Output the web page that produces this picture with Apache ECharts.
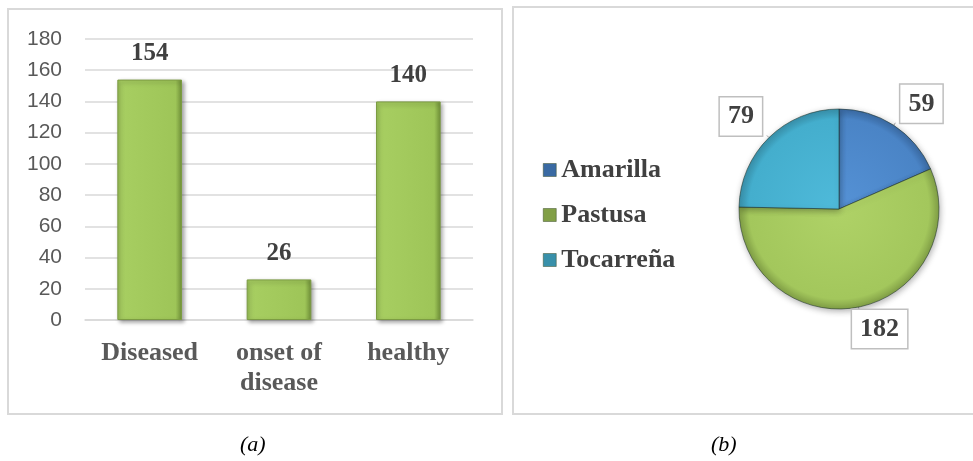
<!DOCTYPE html>
<html>
<head>
<meta charset="utf-8">
<script src="https://cdn.jsdelivr.net/npm/echarts@6/dist/echarts.min.js"></script>
<style>
  html, body { margin: 0; padding: 0; background: #fff; }
  #chart { width: 973px; height: 461px; }
</style>
</head>
<body>
<div id="chart"></div>
<script>
// (a) plant state counts
var barCategories = ['Diseased', 'onset of\ndisease', 'healthy'];
var barValues = [154, 26, 140];
var yMin = 0, yMax = 180, yStep = 20;

// (b) variety counts
var pieNames = ['Amarilla', 'Pastusa', 'Tocarreña'];
var pieValues = [59, 182, 79];

var serif = "'Liberation Serif', 'Times New Roman', serif";
var pieCenter = [839, 209], pieR = 100;

function radial(c0, c1, c2) {
  return {
    type: 'radial', x: pieCenter[0], y: pieCenter[1], r: pieR, global: true,
    colorStops: [{ offset: 0, color: c0 }, { offset: 0.9, color: c1 }, { offset: 1, color: c2 }]
  };
}
var pieColors = [
  radial('#5592d6', '#4a84c6', '#3a6aa3'),
  radial('#afd267', '#a3c75c', '#819f46'),
  radial('#4fbada', '#44aecd', '#3890aa')
];

var barFill = {
  type: 'linear', x: 0, y: 0, x2: 1, y2: 0,
  colorStops: [
    { offset: 0, color: '#93b952' },
    { offset: 0.06, color: '#a7ce61' },
    { offset: 0.9, color: '#9ec558' },
    { offset: 1, color: '#6f8f38' }
  ]
};

var chart = echarts.init(document.getElementById('chart'));
chart.setOption({
  animation: false,
  backgroundColor: '#fff',
  graphic: [
    { type: 'rect', z: -10, shape: { x: 8, y: 9, width: 494, height: 405 },
      style: { fill: '#fff', stroke: '#d9d9d9', lineWidth: 2 } },
    { type: 'rect', z: -10, shape: { x: 513, y: 7, width: 470, height: 407 },
      style: { fill: '#fff', stroke: '#d9d9d9', lineWidth: 2 } },
    { type: 'text', left: 240, top: 434,
      style: { text: '(a)', font: 'italic 22px ' + serif, fill: '#000' } },
    { type: 'text', left: 711, top: 434,
      style: { text: '(b)', font: 'italic 22px ' + serif, fill: '#000' } }
  ],
  grid: { left: 85, right: 500, top: 39, bottom: 141 },
  xAxis: {
    type: 'category',
    data: barCategories,
    axisLine: { lineStyle: { color: '#d9d9d9', width: 1.5 } },
    axisTick: { show: false },
    axisLabel: {
      margin: 18, color: '#595959', fontFamily: serif, fontWeight: 'bold',
      fontSize: 26, lineHeight: 30, interval: 0
    }
  },
  yAxis: {
    type: 'value', min: yMin, max: yMax, interval: yStep,
    axisLine: { show: false },
    axisTick: { show: false },
    splitLine: { lineStyle: { color: '#d9d9d9', width: 1.5 } },
    axisLabel: { margin: 23, color: '#595959', fontFamily: "'Liberation Sans', Arial, sans-serif", fontSize: 21 }
  },
  legend: {
    orient: 'vertical',
    left: 538, top: 150,
    data: pieNames,
    icon: 'rect',
    itemWidth: 13, itemHeight: 13,
    itemGap: 15,
    itemStyle: { borderColor: '#3d4e2a', borderWidth: 0.5 },
    textStyle: { color: '#404040', fontFamily: serif, fontWeight: 'bold', fontSize: 26, lineHeight: 30 }
  },
  series: [
    {
      type: 'bar',
      data: barValues,
      barWidth: '50%',
      itemStyle: {
        color: barFill,
        borderColor: '#7c9c43', borderWidth: 1,
        shadowColor: 'rgba(0,0,0,0.35)', shadowBlur: 4, shadowOffsetX: 2, shadowOffsetY: 2
      },
      label: {
        show: true, position: 'top', distance: 13,
        color: '#404040', fontFamily: serif, fontWeight: 'bold', fontSize: 25, lineHeight: 26
      }
    },
    {
      type: 'pie',
      center: pieCenter,
      radius: pieR,
      startAngle: 90,
      clockwise: true,
      avoidLabelOverlap: false,
      data: pieNames.map(function (n, i) {
        return { name: n, value: pieValues[i], itemStyle: { color: pieColors[i] } };
      }),
      itemStyle: {
        borderColor: 'rgba(30,50,40,0.55)', borderWidth: 1,
        shadowColor: 'rgba(0,0,0,0.3)', shadowBlur: 6, shadowOffsetX: 1, shadowOffsetY: 2
      },
      label: {
        show: true, position: 'outside', formatter: '{c}',
        color: '#404040', fontFamily: serif, fontWeight: 'bold', fontSize: 26, lineHeight: 28,
        backgroundColor: '#fff', borderColor: '#bfbfbf', borderWidth: 1.5, padding: [5, 8]
      },
      labelLine: { show: true, length: 3, length2: 0, lineStyle: { color: '#a6a6a6', width: 1 } },
      labelLayout: function (params) {
        var pts = params.labelLinePoints;
        var endY = pts ? pts[pts.length - 1][1] : 0;
        if (endY < pieCenter[1]) {
          return { verticalAlign: 'bottom' };
        }
        // bottom label sits a little left of its leader, as in the source
        return { verticalAlign: 'top', dx: -12 };
      }
    }
  ]
});
</script>
</body>
</html>
